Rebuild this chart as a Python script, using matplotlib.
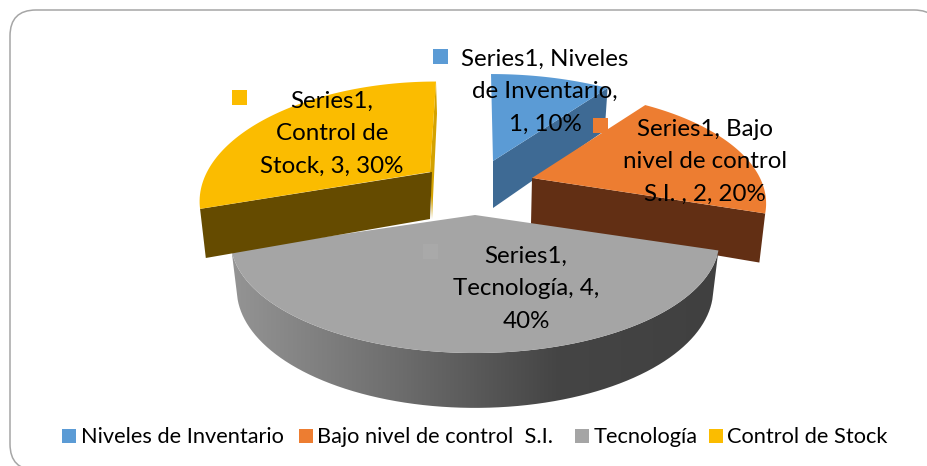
import numpy as np
import matplotlib
matplotlib.use('Agg')
import matplotlib.pyplot as plt
from matplotlib.colors import LinearSegmentedColormap
from matplotlib.patches import FancyBboxPatch, PathPatch, Polygon, Rectangle
from matplotlib.path import Path

# data
names = ['Niveles de Inventario', 'Bajo nivel de control  S.I.', 'Tecnología', 'Control de Stock']
values = [1, 2, 4, 3]
series = 'Series1'

top_colors = ['#5b9bd5', '#ed7d31', '#a5a5a5', '#fbbc00']
side_colors = ['#3e6a94', '#622f14', '#666666', '#654b00']

# layout, in pixels of the 927x466 picture
apex = [(493, 161), (532, 178), (475, 215), (430, 172)]
radius_x = [234, 228, 238, 223]
radius_y = [106.7, 106.7, 106.7, 111]
shift = [-2, 0, 0, 6]       # lean of the far edge towards the middle
k = 0.227                   # perspective of the pie plane
depth = 47

label_lines = [['%s, Niveles' % series, 'de Inventario,', '1, 10%'],
               ['%s, Bajo' % series, 'nivel de control', 'S.I. , 2, 20%'],
               ['%s,' % series, 'Tecnología, 4,', '40%'],
               ['%s,' % series, 'Control de', 'Stock, 3, 30%']]
label_x = [545, 705, 526, 332]
label_y = [59, 129, 256, 101]
key_xy = [(433, 49), (593, 118), (423, 244), (232, 90)]
key_colors = ['#5b9bd5', '#ed7d31', '#a9a9a9', '#fbbc00']
legend_key_x = [62, 299, 575, 709]
legend_text_x = [81, 317, 594, 727]

font = 'Lato'
fs = 17.4
fs_leg = 15.7

fig = plt.figure(figsize=(9.27, 4.66), dpi=100)
ax = fig.add_axes([0, 0, 1, 1])
ax.axis('off')


def rim(i, a0, a1, n=80):
    th = np.radians(np.linspace(a0, a1, n))
    u, v = np.sin(th), np.cos(th)
    s = 1 / (1 + k * v)
    return radius_x[i] * u * s + shift[i] * v, -radius_y[i] * v * s, s


def lower(x, y, s):
    return x * 0.975, y + depth * s ** 0.6


# rounded frame
frame = FancyBboxPatch((35, 35), 880, 410, boxstyle='round,pad=25,rounding_size=26',
                       fc='white', ec='#a6a6a6', lw=1.1)
ax.add_patch(frame)

edges = np.cumsum([0] + values) / float(sum(values)) * 360
gray_cmap = LinearSegmentedColormap.from_list('side', ['#949494', '#6e6e6e', '#454545', '#404040'])

# blue and orange first, yellow next, the big slice goes on top
for i in [0, 1, 3, 2]:
    ax0, ay0 = apex[i]
    x, y, s = rim(i, edges[i], edges[i + 1])
    bx, by = lower(x, y, s)
    if i == 2:
        # curved outer wall with a gradient
        xs = np.concatenate([x, bx[::-1]]) + ax0
        ys = np.concatenate([y, by[::-1]]) + ay0
        clip = PathPatch(Path(np.column_stack([xs, ys])), fc='none', ec='none', transform=ax.transData)
        ax.add_patch(clip)
        im = ax.imshow(np.linspace(0, 1, 256).reshape(1, -1), cmap=gray_cmap, aspect='auto',
                       extent=[xs.min(), xs.max(), ys.max(), ys.min()], zorder=2 + i)
        im.set_clip_path(clip)
    elif i == 3:
        # thin strip on the right, dark cut face on the left
        ax.add_patch(Polygon([(ax0, ay0), (x[-1] + ax0, y[-1] + ay0),
                              (x[-1] + ax0 + 1, y[-1] + ay0 + 32), (ax0 + 2, ay0 + depth)],
                             fc='#d4a200', ec='none', zorder=2 + i))
        ax.add_patch(Polygon([(ax0 + 2, ay0), (x[0] + ax0, y[0] + ay0),
                              (bx[0] + ax0, by[0] + ay0), (ax0, ay0 + depth)],
                             fc=side_colors[i], ec='none', zorder=2 + i))
    else:
        # cut face seen on the right of the slice
        ax.add_patch(Polygon([(ax0, ay0), (x[-1] + ax0, y[-1] + ay0),
                              (bx[-1] + ax0, by[-1] + ay0), (ax0 - i, ay0 + depth - i)],
                             fc=side_colors[i], ec='none', zorder=2 + i))
    ax.add_patch(Polygon(np.column_stack([np.r_[ax0, x + ax0], np.r_[ay0, y + ay0]]),
                         fc=top_colors[i], ec='none', zorder=2 + i))

# data labels
for i in range(len(values)):
    for j, line in enumerate(label_lines[i]):
        ax.text(label_x[i], label_y[i] + j * 32.5, line, family=font, fontsize=fs, color='black',
                ha='center', va='center', zorder=10)
    ax.add_patch(Rectangle(key_xy[i], 15, 15, fc=key_colors[i], ec='none', zorder=9))

# legend
for i in range(len(values)):
    ax.add_patch(Rectangle((legend_key_x[i], 429), 14, 14, fc=top_colors[i], ec='none', zorder=9))
    ax.text(legend_text_x[i], 437, names[i], family=font, fontsize=fs_leg, color='black',
            ha='left', va='center', zorder=10)

ax.set_xlim(0, 927)
ax.set_ylim(466, 0)
fig.savefig('out.png', dpi=100)
